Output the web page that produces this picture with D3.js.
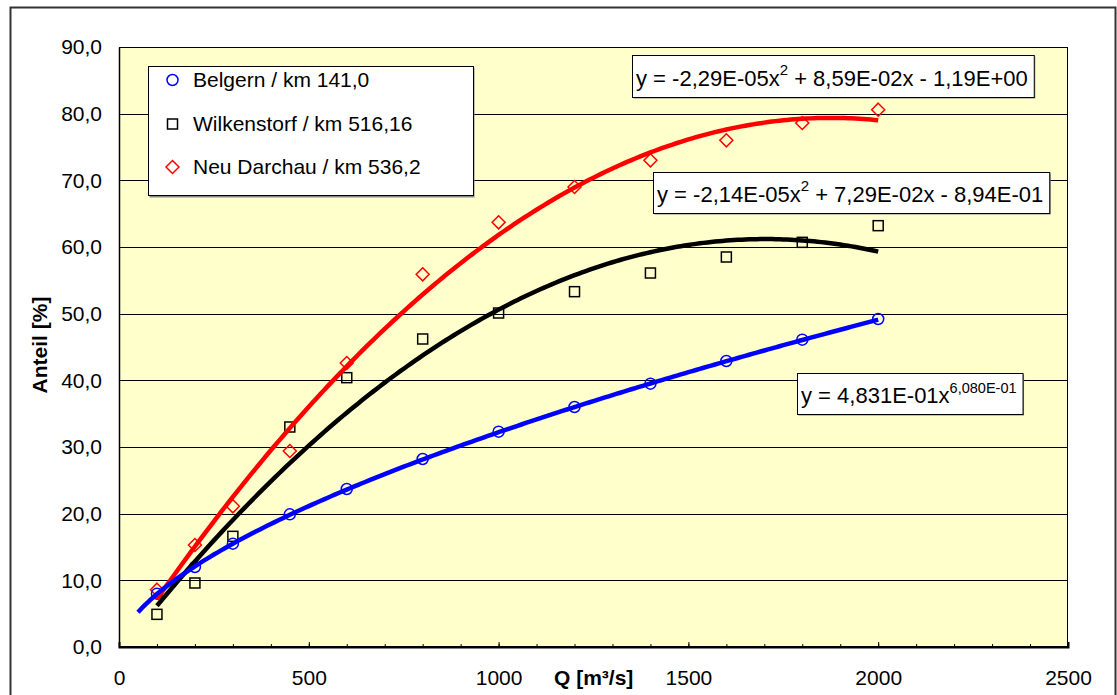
<!DOCTYPE html>
<html>
<head>
<meta charset="utf-8">
<script src="https://cdn.jsdelivr.net/npm/d3@7"></script>
<style>
  html, body { margin: 0; padding: 0; background: #fff; }
  svg { display: block; font-family: "Liberation Sans", Arial, sans-serif; }
</style>
</head>
<body>
<svg id="chart" width="1117" height="695"></svg>
<script>
// Abfluss Q [m³/s] an den Messstellen
const discharge = [100, 200, 300, 450, 600, 800, 1000, 1200, 1400, 1600, 1800, 2000];

// Anteil [%] je Messstelle
const belgern      = [8.0, 12.0, 15.5, 19.9, 23.7, 28.2, 32.3, 36.0, 39.5, 42.9, 46.1, 49.2];
const wilkenstorf  = [4.9, 9.6, 16.6, 33.0, 40.4, 46.2, 50.1, 53.3, 56.1, 58.5, 60.7, 63.2];
const neuDarchau   = [8.6, 15.3, 21.1, 29.4, 42.6, 55.9, 63.7, 69.0, 73.0, 76.0, 78.6, 80.6];

const seriesNames = ["Belgern / km 141,0", "Wilkenstorf / km 516,16", "Neu Darchau / km 536,2"];

// Trendlinien: Potenzfunktion (Belgern) und Polynome 2. Grades
const powerCoef   = [4.831E-01, 6.080E-01];            // y = a·x^b
const polyWilk    = [-2.14E-05, 7.29E-02, -8.94E-01];  // y = a·x² + b·x + c
const polyNeu     = [-2.29E-05, 8.59E-02, -1.19E+00];
const trendRangeBelgern = [50, 2000];
const trendRangePoly    = [100, 2000];

// Achsen
const xTicksMajor = [0, 500, 1000, 1500, 2000, 2500];
const yTicks = [0, 10, 20, 30, 40, 50, 60, 70, 80, 90];

const de = d3.formatLocale({decimal: ",", thousands: ".", grouping: [3], currency: ["", " €"]});
const fmtY = de.format(".1f");
const fmtX = de.format("d");

const svg = d3.select("#chart");
const plot = {left: 119, right: 1068, top: 47, bottom: 647};

const x = d3.scaleLinear().domain([0, 2500]).range([plot.left, plot.right]);
const y = d3.scaleLinear().domain([0, 90]).range([plot.bottom, plot.top]);

// Diagrammrahmen
svg.append("rect")
  .attr("x", 10.5).attr("y", 7.5).attr("width", 1105).attr("height", 700)
  .attr("fill", "#fff").attr("stroke", "#333").attr("stroke-width", 2);

// Zeichenfläche
svg.append("rect")
  .attr("x", plot.left).attr("y", plot.top)
  .attr("width", plot.right - plot.left).attr("height", plot.bottom - plot.top)
  .attr("fill", "#FFFFCC");

// Gitternetzlinien
svg.append("g")
  .selectAll("line").data(yTicks.filter(d => d > 0)).join("line")
  .attr("x1", plot.left).attr("x2", plot.right)
  .attr("y1", d => Math.round(y(d)) + 0.5).attr("y2", d => Math.round(y(d)) + 0.5)
  .attr("stroke", "#000").attr("stroke-width", 1);

svg.append("rect")
  .attr("x", plot.left + 0.5).attr("y", plot.top + 0.5)
  .attr("width", plot.right - plot.left - 1).attr("height", plot.bottom - plot.top - 1)
  .attr("fill", "none").attr("stroke", "#000").attr("stroke-width", 1);

// X-Achse: Hilfs- und Hauptstriche nach innen
const xMinor = svg.append("g").attr("transform", `translate(0,${plot.bottom})`)
  .call(d3.axisBottom(x).tickValues(d3.range(0, 2501, 100)).tickSize(-3).tickFormat(""));
xMinor.select(".domain").remove();
xMinor.selectAll("line").attr("stroke", "#000");

const xMajor = svg.append("g").attr("transform", `translate(0,${plot.bottom})`)
  .call(d3.axisBottom(x).tickValues(xTicksMajor).tickSize(-5).tickPadding(0).tickFormat(fmtX));
xMajor.select(".domain").attr("stroke", "#000").attr("stroke-width", 2);
xMajor.selectAll("line").attr("stroke", "#000");
xMajor.selectAll("text")
  .attr("y", 38).attr("dy", null)
  .attr("font-size", 21).attr("fill", "#000")
  .attr("font-family", "'Liberation Sans', Arial, sans-serif");

// Y-Achse
const yAxis = svg.append("g").attr("transform", `translate(${plot.left},0)`)
  .call(d3.axisLeft(y).tickValues(yTicks).tickSize(0).tickPadding(17).tickFormat(fmtY));
yAxis.select(".domain").attr("stroke", "#000").attr("stroke-width", 1.5);
yAxis.selectAll("text")
  .attr("font-size", 21).attr("fill", "#000")
  .attr("font-family", "'Liberation Sans', Arial, sans-serif");

// Achsentitel
svg.append("text")
  .attr("x", 554).attr("y", 685)
  .attr("font-size", 21).attr("font-weight", "bold")
  .text("Q [m³/s]");

svg.append("text")
  .attr("transform", "translate(47,345) rotate(-90)")
  .attr("text-anchor", "middle")
  .attr("font-size", 21).attr("font-weight", "bold")
  .text("Anteil [%]");

// Messpunkte
const rows = discharge.map((q, i) => ({q, b: belgern[i], w: wilkenstorf[i], n: neuDarchau[i]}));

const markers = svg.append("g");
function circleMark(g, cx, cy) {
  g.append("circle").attr("cx", cx).attr("cy", cy).attr("r", 5.5)
    .attr("fill", "none").attr("stroke", "#0000FF").attr("stroke-width", 1.5);
}
function squareMark(g, cx, cy) {
  g.append("rect").attr("x", cx - 5).attr("y", cy - 5).attr("width", 10).attr("height", 10)
    .attr("fill", "none").attr("stroke", "#000").attr("stroke-width", 1.5);
}
function diamondMark(g, cx, cy) {
  g.append("path")
    .attr("d", `M${cx},${cy - 6.5}L${cx + 6.5},${cy}L${cx},${cy + 6.5}L${cx - 6.5},${cy}Z`)
    .attr("fill", "none").attr("stroke", "#FF0000").attr("stroke-width", 1.5);
}
rows.forEach(r => {
  squareMark(markers, x(r.q), y(r.w));
  diamondMark(markers, x(r.q), y(r.n));
  circleMark(markers, x(r.q), y(r.b));
});

// Trendlinien
const line = d3.line().x(d => x(d[0])).y(d => y(d[1])).curve(d3.curveLinear);
const powerFn = q => powerCoef[0] * Math.pow(q, powerCoef[1]);
const polyFn = c => q => c[0] * q * q + c[1] * q + c[2];

function trend(fn, range, color) {
  const pts = d3.range(range[0], range[1] + 1, 10).map(q => [q, fn(q)]);
  svg.append("path").datum(pts).attr("d", line)
    .attr("fill", "none").attr("stroke", color).attr("stroke-width", 4.5)
    .attr("stroke-linecap", "butt").attr("stroke-linejoin", "round");
}
trend(polyFn(polyWilk), trendRangePoly, "#000");
trend(polyFn(polyNeu), trendRangePoly, "#FF0000");
trend(powerFn, trendRangeBelgern, "#0000FF");

// Legende
const legend = svg.append("g");
legend.append("rect").attr("x", 149.5).attr("y", 67.5).attr("width", 325).attr("height", 130).attr("fill", "#888");
legend.append("rect").attr("x", 148.5).attr("y", 66.5).attr("width", 325).attr("height", 129)
  .attr("fill", "#fff").attr("stroke", "#000").attr("stroke-width", 1);
const legendMarks = [circleMark, squareMark, diamondMark];
const legendY = [80, 124, 167];
seriesNames.forEach((name, i) => {
  legendMarks[i](legend, 172.5, legendY[i]);
  legend.append("text").attr("x", 193).attr("y", legendY[i]).attr("dy", "0.35em")
    .attr("font-size", 21).text(name);
});

// Gleichungen der Trendlinien
const fmtE = v => {
  const s = v.toExponential(2).toUpperCase().replace(".", ",");
  return s.replace(/E([+-])(\d)$/, "E$10$2");
};
const fmtE3 = v => {
  const s = v.toExponential(3).toUpperCase().replace(".", ",");
  return s.replace(/E([+-])(\d)$/, "E$10$2");
};
const signed = v => (v < 0 ? "- " : "+ ") + fmtE(Math.abs(v));

function eqBox(left, top, h, baseline, parts) {
  const g = svg.append("g");
  const shadow = g.append("rect");
  const box = g.append("rect");
  const t = g.append("text").attr("x", left + 4).attr("y", baseline).attr("font-size", 22);
  parts.forEach(p => {
    const ts = t.append("tspan").text(p.text);
    if (p.sup) ts.attr("font-size", p.size).attr("dy", -p.shift);
    else if (p.after) ts.attr("dy", p.after);
  });
  const w = t.node().getComputedTextLength() + 10;
  shadow.attr("x", left + 1.5).attr("y", top + 1.5).attr("width", w).attr("height", h).attr("fill", "#888");
  box.attr("x", left + 0.5).attr("y", top + 0.5).attr("width", w).attr("height", h)
    .attr("fill", "#fff").attr("stroke", "#000").attr("stroke-width", 1);
}

eqBox(632, 55, 42, 86, [
  {text: "y = " + (polyNeu[0] < 0 ? "-" : "") + fmtE(Math.abs(polyNeu[0])) + "x"},
  {text: "2", sup: true, size: 15, shift: 11},
  {text: " " + signed(polyNeu[1]) + "x " + signed(polyNeu[2]), after: 11}
]);
eqBox(653, 172, 41, 202, [
  {text: "y = " + (polyWilk[0] < 0 ? "-" : "") + fmtE(Math.abs(polyWilk[0])) + "x"},
  {text: "2", sup: true, size: 15, shift: 11},
  {text: " " + signed(polyWilk[1]) + "x " + signed(polyWilk[2]), after: 11}
]);
eqBox(797, 373, 41, 403, [
  {text: "y = " + fmtE3(powerCoef[0]) + "x"},
  {text: fmtE3(powerCoef[1]), sup: true, size: 14.5, shift: 10}
]);
</script>
</body>
</html>
